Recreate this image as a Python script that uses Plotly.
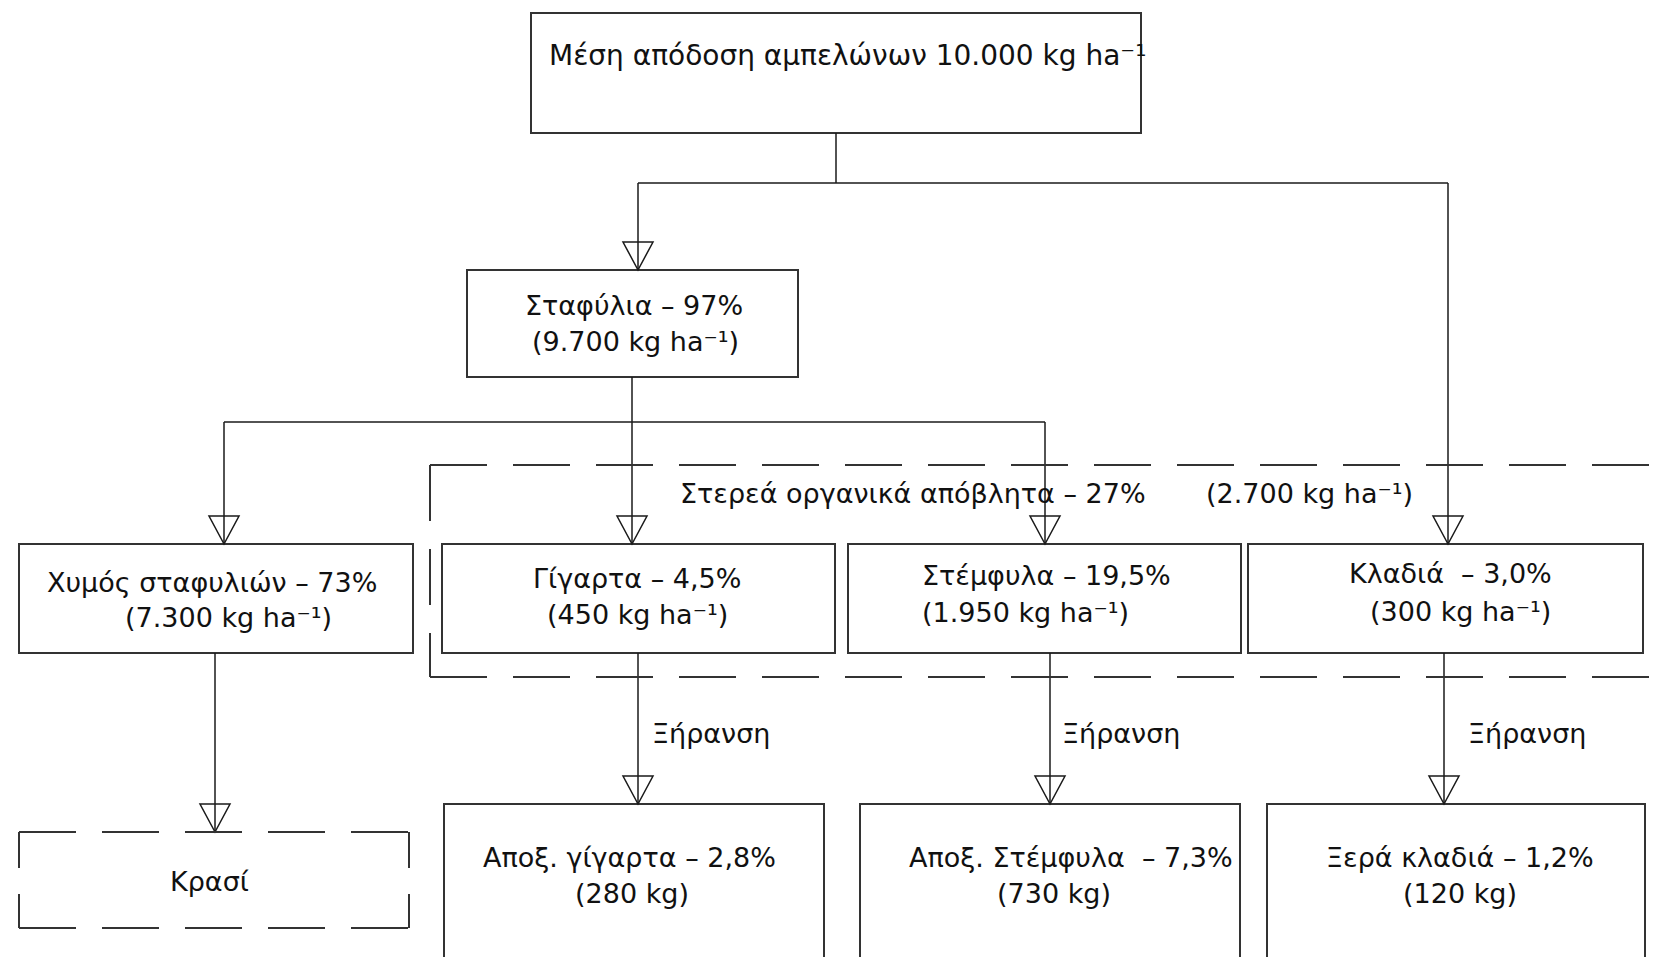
import plotly.graph_objects as go

# ---------------- data ----------------
top_label = "Μέση απόδοση αμπελώνων"
top_kg = 10000
node_names = ["Σταφύλια", "Χυμός σταφυλιών", "Γίγαρτα", "Στέμφυλα", "Κλαδιά ",
              "Αποξ. γίγαρτα", "Αποξ. Στέμφυλα ", "Ξερά κλαδιά"]
node_pct = [97, 73, 4.5, 19.5, 3.0, 2.8, 7.3, 1.2]
node_pct_dec = [0, 0, 1, 1, 1, 1, 1, 1]
node_kg = [9700, 7300, 450, 1950, 300, 280, 730, 120]
node_unit = ["kg ha⁻¹", "kg ha⁻¹", "kg ha⁻¹", "kg ha⁻¹", "kg ha⁻¹", "kg", "kg", "kg"]
solid_label = "Στερεά οργανικά απόβλητα"
solid_pct = 27
solid_kg = 2700
wine_label = "Κρασί"
drying_label = "Ξήρανση"


def fmt_int(n):
    return f"{n:,}".replace(",", ".")


def fmt_pct(p, d):
    return f"{p:.{d}f}".replace(".", ",") + "%"


# ---------------- layout (pixel positions) ----------------
W, H = 1655, 957
FONT = "DejaVu Sans, Liberation Sans, Arial, sans-serif"
FS = 27
TXT = "#111111"
LINE = "#1a1a1a"
BOX = "#333333"

top_box = (531, 1141, 13, 133)
top_text = (847, 55)

# box rects (x0, x1, y0, y1) for each node in node_names order
node_boxes = [
    (467, 798, 270, 377),
    (19, 413, 544, 653),
    (442, 835, 544, 653),
    (848, 1241, 544, 653),
    (1248, 1643, 544, 653),
    (444, 824, 804, 975),
    (860, 1240, 804, 975),
    (1267, 1645, 804, 975),
]
# text line positions: (x1, y1, x2, y2, anchor)
node_text = [
    (634, 305, 635, 341, "center"),
    (212, 582, 228, 617, "center"),
    (637, 578, 637, 614, "center"),
    (920, 575, 920, 612, "left"),
    (1450, 573, 1460, 611, "center"),
    (629, 857, 632, 893, "center"),
    (1071, 857, 1054, 893, "center"),
    (1460, 857, 1460, 893, "center"),
]

fig = go.Figure()
shapes = []
annotations = []


def box(x0, x1, y0, y1, width=2, color=BOX, dash=None):
    shapes.append(dict(type="rect", xref="x", yref="y", x0=x0, x1=x1, y0=y0, y1=y1,
                       line=dict(color=color, width=width, dash=dash), fillcolor="rgba(0,0,0,0)"))


def seg(x0, y0, x1, y1, width=1.5, color=LINE, dash=None):
    shapes.append(dict(type="line", xref="x", yref="y", x0=x0, y0=y0, x1=x1, y1=y1,
                       line=dict(color=color, width=width, dash=dash)))


def arrow_head(x, ytip, w=30, h=28):
    path = f"M {x - w / 2},{ytip - h} L {x + w / 2},{ytip - h} L {x},{ytip} Z"
    shapes.append(dict(type="path", xref="x", yref="y", path=path,
                       line=dict(color=LINE, width=1.5), fillcolor="rgba(0,0,0,0)"))


def arrow(x, y0, y1):
    seg(x, y0, x, y1)
    arrow_head(x, y1)


def text(x, y, s, anchor="center", size=FS):
    annotations.append(dict(x=x, y=y, xref="x", yref="y", text=s, showarrow=False,
                            xanchor=anchor, yanchor="middle",
                            font=dict(family=FONT, size=size, color=TXT)))


# top box
box(*top_box)
text(top_text[0], top_text[1], f"{top_label} {fmt_int(top_kg)} kg ha⁻¹", size=28)

# node boxes
for i, name in enumerate(node_names):
    box(*node_boxes[i])
    x1, y1, x2, y2, anc = node_text[i]
    text(x1, y1, f"{name} – {fmt_pct(node_pct[i], node_pct_dec[i])}", anc)
    text(x2, y2, f"({fmt_int(node_kg[i])} {node_unit[i]})", anc)

# connectors from top box
seg(836, 133, 836, 183)
seg(638, 183, 1448, 183)
arrow(638, 183, 270)
arrow(1448, 183, 544)

# connectors from Σταφύλια
seg(632, 377, 632, 422)
arrow(632, 422, 544)
seg(224, 422, 1045, 422)
arrow(224, 422, 544)
arrow(1045, 422, 544)

# drying arrows
arrow(638, 653, 804)
arrow(1050, 653, 804)
arrow(1444, 653, 804)
for xl in (650, 1060, 1466):
    text(xl, 733, drying_label, "left")

# juice -> wine
arrow(215, 653, 832)

# solid waste dashed region
DASH = "57px,26px"
seg(430, 465, 1655, 465, width=2, color=BOX, dash=DASH)
seg(430, 677, 1655, 677, width=2, color=BOX, dash=DASH)
seg(430, 465, 430, 677, width=2, color=BOX, dash="56px,28px")
text(913, 493, f"{solid_label} – {fmt_pct(solid_pct, 0)}")
text(1309, 493, f"({fmt_int(solid_kg)} kg ha⁻¹)")

# wine dashed box
seg(19, 832, 409, 832, width=2, color=BOX, dash=DASH)
seg(19, 928, 409, 928, width=2, color=BOX, dash=DASH)
seg(19, 832, 19, 928, width=2, color=BOX, dash="36px,26px")
seg(409, 832, 409, 928, width=2, color=BOX, dash="36px,26px")
text(209, 881, wine_label)

fig.update_layout(
    width=W, height=H,
    margin=dict(l=0, r=0, t=0, b=0),
    paper_bgcolor="white", plot_bgcolor="white",
    xaxis=dict(range=[0, W], visible=False, fixedrange=True),
    yaxis=dict(range=[H, 0], visible=False, fixedrange=True),
    shapes=shapes, annotations=annotations,
    showlegend=False,
)
fig.write_html(
    "out.html",
    config={"displayModeBar": False},
    post_script="document.body.style.margin='0';document.body.style.padding='0';"
                "document.body.style.overflow='hidden';",
)
